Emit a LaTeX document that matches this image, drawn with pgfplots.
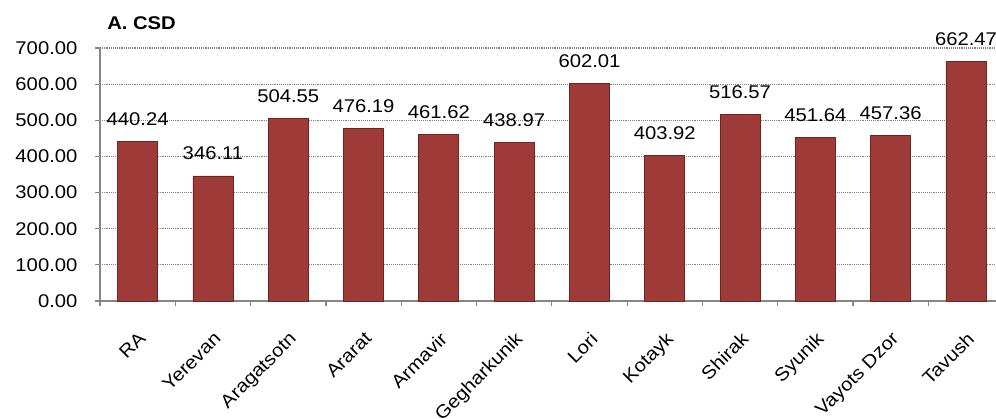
\documentclass[border=0pt]{standalone}
\usepackage{pgfplots}
\pgfplotsset{compat=1.18}
\usepackage{fontspec}
\setmainfont{Liberation Sans}[FakeStretch=1.1]
\definecolor{barred}{RGB}{158,58,56}
\definecolor{barredD}{RGB}{112,36,34}
\definecolor{axgray}{RGB}{134,134,134}
\begin{document}
\fontsize{13.8pt}{16pt}\selectfont
\begin{tikzpicture}
\useasboundingbox (0,0) rectangle (747pt,313.5pt);
\clip (0,0) rectangle (747pt,313.5pt);
\begin{axis}[
  at={(75pt,87.75pt)}, anchor=south west,
  scale only axis, width=677.7pt, height=189.75pt,
  xmin=-0.5, xmax=11.5, ymin=0, ymax=700,
  ybar, bar width=30pt,
  axis x line*=bottom, axis y line*=left,
  axis line style={draw=axgray, line width=0.9pt},
  ytick={0,100,...,700},
  xtick={0,...,11},
  xticklabels={RA,Yerevan,Aragatsotn,Ararat,Armavir,Gegharkunik,Lori,Kotayk,Shirak,Syunik,Vayots Dzor,Tavush},
  minor xtick={-0.5,0.5,...,11.5},
  major x tick style={draw=none},
  tick align=outside,
  major tick length=3.75pt, minor tick length=3.75pt,
  tick style={draw=axgray, line width=0.9pt},
  ymajorgrids, grid style={densely dotted, draw=gray, line width=0.8pt},
  /pgf/number format/.cd, fixed, fixed zerofill, precision=2, 1000 sep={}, assume math mode=true,
  /pgfplots/.cd,
  yticklabel style={inner sep=0pt, xshift=-13pt},
  xticklabel style={inner sep=0pt, xshift=0pt, yshift=-18.5pt, rotate=45, anchor=north east},
  ticklabel style={font=\fontsize{13.8pt}{16pt}\selectfont},
  nodes near coords,
  every node near coord/.append style={font=\fontsize{13.8pt}{16pt}\selectfont, anchor=base, inner sep=0pt, yshift=12pt, text=black},
]
\addplot[draw=barredD, line width=0.6pt, fill=barred] coordinates {
(0,440.24) (1,346.11) (2,504.55) (3,476.19) (4,461.62) (5,438.97)
(6,602.01) (7,403.92) (8,516.57) (9,451.64) (10,457.36) (11,662.47)};
\end{axis}
\node[anchor=base west, inner sep=0pt, font=\bfseries\fontsize{13.8pt}{16pt}\selectfont] at (80.25pt,291pt) {A. CSD};
\end{tikzpicture}
\end{document}
